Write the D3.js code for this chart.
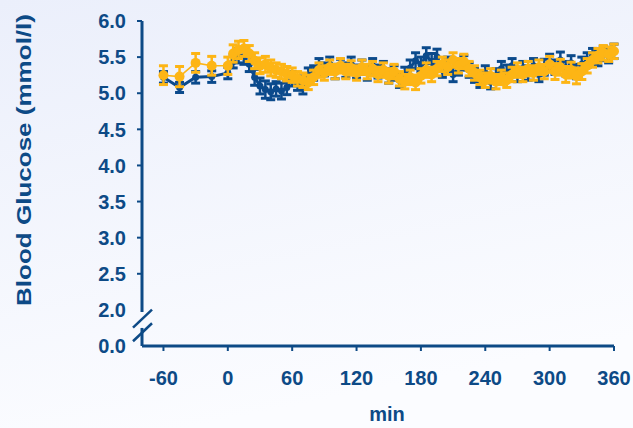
<!DOCTYPE html>
<meta charset="utf-8">
<head>
	<title>Blood glucose</title>
	<script type="text/javascript" src="https://d3js.org/d3.v7.min.js"></script>
	<style>
		body { margin: 0; }
		.axis-text {
			font-family: "Liberation Sans", Arial, sans-serif;
			font-weight: bold;
			fill: #0d4a86;
		}
	</style>
</head>
<body>
	<div id="chart"></div>
	<script>
		// chart values
		var times = [-60, -45, -30, -15, 0, 5, 10, 15, 20, 25, 30, 35, 40, 45, 50, 55, 60, 65, 70, 75, 80, 85, 90, 95,
			100, 105, 110, 115, 120, 125, 130, 135, 140, 145, 150, 155, 160, 165, 170, 175, 180, 185, 190, 195,
			200, 205, 210, 215, 220, 225, 230, 235, 240, 245, 250, 255, 260, 265, 270, 275, 280, 285, 290, 295,
			300, 305, 310, 315, 320, 325, 330, 335, 340, 345, 350, 355, 360];

		var blueMean = [5.22, 5.08, 5.22, 5.23, 5.28, 5.44, 5.52, 5.50, 5.40, 5.22, 5.10, 5.05, 5.02, 5.06, 5.03, 5.08,
			5.20, 5.14, 5.10, 5.25, 5.28, 5.38, 5.33, 5.40, 5.30, 5.38, 5.32, 5.40, 5.30, 5.36, 5.28, 5.38,
			5.30, 5.34, 5.24, 5.28, 5.18, 5.25, 5.35, 5.45, 5.40, 5.52, 5.44, 5.50, 5.32, 5.40, 5.26, 5.36,
			5.42, 5.32, 5.25, 5.18, 5.28, 5.16, 5.24, 5.34, 5.28, 5.38, 5.26, 5.34, 5.28, 5.38, 5.26, 5.36,
			5.44, 5.36, 5.46, 5.34, 5.42, 5.30, 5.40, 5.46, 5.52, 5.48, 5.55, 5.52, 5.58];
		var blueErr = [0.08, 0.07, 0.08, 0.08, 0.08, 0.09, 0.10, 0.10, 0.10, 0.11, 0.11, 0.12, 0.11, 0.10, 0.11, 0.10,
			0.10, 0.10, 0.11, 0.10, 0.10, 0.10, 0.09, 0.10, 0.10, 0.09, 0.10, 0.10, 0.09, 0.10, 0.10, 0.10,
			0.09, 0.10, 0.10, 0.10, 0.10, 0.11, 0.11, 0.11, 0.10, 0.11, 0.11, 0.11, 0.10, 0.10, 0.10, 0.11,
			0.10, 0.10, 0.10, 0.10, 0.10, 0.10, 0.10, 0.10, 0.11, 0.10, 0.10, 0.10, 0.10, 0.10, 0.10, 0.11,
			0.10, 0.10, 0.11, 0.10, 0.10, 0.10, 0.10, 0.10, 0.10, 0.10, 0.10, 0.10, 0.10];

		var orangeMean = [5.25, 5.23, 5.42, 5.38, 5.38, 5.55, 5.60, 5.62, 5.55, 5.45, 5.38, 5.40, 5.35, 5.32, 5.30, 5.27,
			5.25, 5.20, 5.18, 5.15, 5.22, 5.32, 5.28, 5.36, 5.30, 5.38, 5.30, 5.35, 5.28, 5.36, 5.30, 5.34,
			5.26, 5.32, 5.24, 5.30, 5.20, 5.16, 5.22, 5.15, 5.24, 5.32, 5.26, 5.34, 5.40, 5.36, 5.46, 5.38,
			5.44, 5.34, 5.28, 5.22, 5.18, 5.24, 5.16, 5.22, 5.18, 5.26, 5.32, 5.26, 5.34, 5.28, 5.36, 5.30,
			5.40, 5.30, 5.36, 5.26, 5.32, 5.24, 5.30, 5.38, 5.46, 5.52, 5.56, 5.54, 5.58];
		var orangeErr = [0.13, 0.14, 0.13, 0.13, 0.12, 0.12, 0.12, 0.11, 0.11, 0.11, 0.11, 0.11, 0.11, 0.10, 0.10, 0.10,
			0.10, 0.10, 0.10, 0.10, 0.10, 0.10, 0.10, 0.10, 0.10, 0.10, 0.10, 0.10, 0.10, 0.10, 0.10, 0.10,
			0.10, 0.10, 0.10, 0.10, 0.10, 0.10, 0.10, 0.10, 0.10, 0.10, 0.10, 0.10, 0.10, 0.10, 0.10, 0.10,
			0.10, 0.10, 0.10, 0.10, 0.10, 0.10, 0.10, 0.10, 0.10, 0.10, 0.10, 0.10, 0.10, 0.10, 0.10, 0.10,
			0.11, 0.11, 0.11, 0.11, 0.11, 0.11, 0.11, 0.10, 0.10, 0.10, 0.10, 0.10, 0.10];

		var xTicks = [-60, 0, 60, 120, 180, 240, 300, 360];
		var yTicks = [2.5, 3.0, 3.5, 4.0, 4.5, 5.0, 5.5, 6.0];
		var yBreakLabels = [{ at: 2.0, text: "2.0" }, { at: 1.5, text: "0.0" }];

		var width = 633, height = 428;
		var blue = "#0b4a8c", orange = "#fdb515", ink = "#0d4a86";

		var svg = d3.select("#chart").append("svg")
			.attr("width", width).attr("height", height);

		var grad = svg.append("defs").append("linearGradient")
			.attr("id", "bg").attr("x1", 0).attr("y1", 0).attr("x2", 0.3).attr("y2", 1);
		grad.append("stop").attr("offset", "0%").attr("stop-color", "#ebeffb");
		grad.append("stop").attr("offset", "100%").attr("stop-color", "#fbfcff");
		svg.append("rect").attr("width", width).attr("height", height).attr("fill", "url(#bg)");

		var x = d3.scaleLinear().domain([-80, 360]).range([142, 614]);
		var y = d3.scaleLinear().domain([1.5, 6.0]).range([346, 21]);

		// y axis (broken between 0 and 2)
		var yAxis = svg.append("g").attr("transform", "translate(" + x(-80) + ",0)");
		yAxis.append("line").attr("y1", y(6.0)).attr("y2", y(1.97))
			.attr("stroke", ink).attr("stroke-width", 3);
		yAxis.append("line").attr("y1", y(1.75)).attr("y2", y(1.5))
			.attr("stroke", ink).attr("stroke-width", 3);
		[1.88, 1.69].forEach(function (v) {
			yAxis.append("line")
				.attr("x1", -9).attr("y1", y(v) + 9).attr("x2", 10).attr("y2", y(v) - 9)
				.attr("stroke", ink).attr("stroke-width", 2.5);
		});
		yAxis.selectAll(".ytick").data(yTicks).enter().append("line")
			.attr("x1", -5).attr("x2", 0)
			.attr("y1", function (d) { return y(d); }).attr("y2", function (d) { return y(d); })
			.attr("stroke", ink).attr("stroke-width", 2);
		yAxis.selectAll(".ylab").data(yTicks.map(function (d) { return { at: d, text: d.toFixed(1) }; }).concat(yBreakLabels))
			.enter().append("text")
			.attr("class", "axis-text")
			.attr("x", -16).attr("y", function (d) { return y(d.at); })
			.attr("dy", "0.36em").attr("text-anchor", "end")
			.style("font-size", "20px")
			.text(function (d) { return d.text; });

		// x axis
		var xAxis = svg.append("g").attr("transform", "translate(0," + y(1.5) + ")");
		xAxis.append("line").attr("x1", x(-80)).attr("x2", x(360))
			.attr("stroke", ink).attr("stroke-width", 3);
		xAxis.selectAll(".xtick").data(xTicks).enter().append("line")
			.attr("x1", function (d) { return x(d); }).attr("x2", function (d) { return x(d); })
			.attr("y1", 0).attr("y2", 5)
			.attr("stroke", ink).attr("stroke-width", 2);
		xAxis.selectAll(".xlab").data(xTicks).enter().append("text")
			.attr("class", "axis-text")
			.attr("x", function (d) { return x(d); }).attr("y", 39)
			.attr("text-anchor", "middle")
			.style("font-size", "20px")
			.text(function (d) { return d; });

		svg.append("text").attr("class", "axis-text")
			.attr("x", 387).attr("y", 421).attr("text-anchor", "middle")
			.style("font-size", "20px").text("min");

		svg.append("text").attr("class", "axis-text")
			.attr("transform", "translate(31,160) rotate(-90)")
			.attr("text-anchor", "middle")
			.style("font-size", "21px")
			.attr("textLength", 292).attr("lengthAdjust", "spacingAndGlyphs")
			.text("Blood Glucose (mmol/l)");

		// series
		function drawSeries(means, errs, color, r, lineW) {
			var pts = times.map(function (t, i) { return { t: t, m: means[i], e: errs[i] }; });
			var g = svg.append("g");
			g.append("path").datum(pts)
				.attr("fill", "none").attr("stroke", color).attr("stroke-width", lineW)
				.attr("d", d3.line().x(function (d) { return x(d.t); }).y(function (d) { return y(d.m); }));
			var eb = g.selectAll(".eb").data(pts).enter().append("g");
			eb.append("line")
				.attr("x1", function (d) { return x(d.t); }).attr("x2", function (d) { return x(d.t); })
				.attr("y1", function (d) { return y(d.m - d.e); }).attr("y2", function (d) { return y(d.m + d.e); })
				.attr("stroke", color).attr("stroke-width", 2.5);
			[-1, 1].forEach(function (s) {
				eb.append("line")
					.attr("x1", function (d) { return x(d.t) - 4.5; }).attr("x2", function (d) { return x(d.t) + 4.5; })
					.attr("y1", function (d) { return y(d.m + s * d.e); }).attr("y2", function (d) { return y(d.m + s * d.e); })
					.attr("stroke", color).attr("stroke-width", 3);
			});
			g.selectAll(".pt").data(pts).enter().append("circle")
				.attr("cx", function (d) { return x(d.t); }).attr("cy", function (d) { return y(d.m); })
				.attr("r", r).attr("fill", color);
		}
		drawSeries(blueMean, blueErr, blue, 3.5, 3);
		drawSeries(orangeMean, orangeErr, orange, 5, 1.5);
	</script>
</body>
</html>
